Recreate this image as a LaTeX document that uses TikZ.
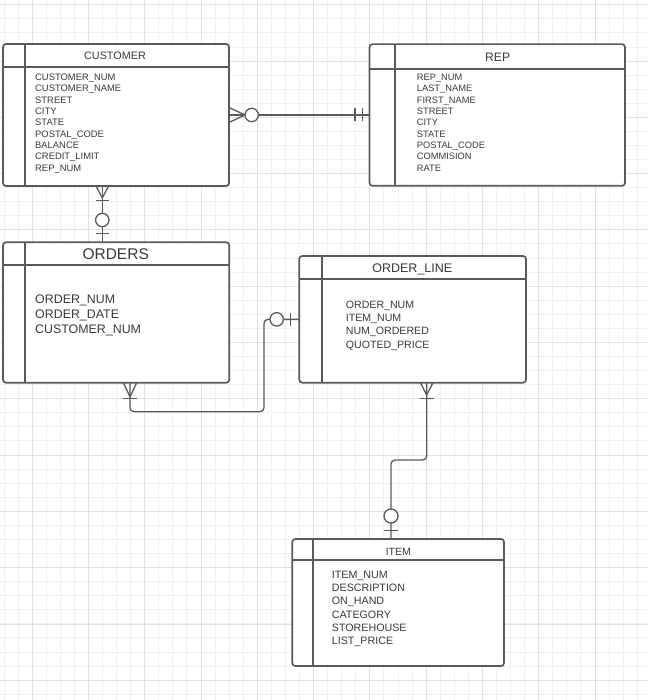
\documentclass[tikz,border=0pt]{standalone}
\usepackage{fontspec}
\setmainfont{Liberation Sans}
\usetikzlibrary{calc}
\definecolor{edge}{HTML}{5A5A5A}
\definecolor{txt}{HTML}{3A3A3A}
\definecolor{gridminor}{HTML}{F1F1F1}
\definecolor{gridmajor}{HTML}{E2E2E2}
\begin{document}
\begin{tikzpicture}[x=1pt,y=-1pt,
  entity/.style={rectangle, draw=edge, line width=1.7pt, fill=white, rounded corners=3pt, inner sep=0pt, outer sep=0pt},
  inner/.style={draw=edge, line width=1.7pt},
  rel/.style={draw=edge, line width=1.3pt},
  attr/.style={text=txt, inner sep=0pt, anchor=base west},
  ttl/.style={text=txt, inner sep=0pt, anchor=base}]
\useasboundingbox (0,0) rectangle (648,700);
\fill[white] (0,0) rectangle (648,700);
% grid
\foreach \i in {0,...,46} \draw[gridminor, line width=0.6pt] ({3.86+\i*14.07},0) -- ({3.86+\i*14.07},700);
\foreach \i in {0,...,49} \draw[gridminor, line width=0.6pt] (0,{4.6+\i*14.07}) -- (648,{4.6+\i*14.07});
\foreach \i in {0,...,11} \draw[gridmajor, line width=0.7pt] ({32+\i*56.3},0) -- ({32+\i*56.3},700);
\foreach \i in {0,...,12} \draw[gridmajor, line width=0.7pt] (0,{4.6+\i*56.3}) -- (648,{4.6+\i*56.3});

% entities
\node[entity, minimum width=226pt, minimum height=142pt] (cust) at (116,115) {};
\draw[inner] (3,67) -- (229,67);
\draw[inner] (25,44) -- (25,186);
\node[entity, minimum width=255.5pt, minimum height=141.7pt] (rep) at (497.25,115) {};
\draw[inner] (369.5,69) -- (625,69);
\draw[inner] (395,44.15) -- (395,185.85);
\node[entity, minimum width=226.3pt, minimum height=140.4pt] (orders) at (116.15,312.5) {};
\draw[inner] (3,265) -- (229.3,265);
\draw[inner] (25,242.3) -- (25,382.7);
\node[entity, minimum width=226.7pt, minimum height=126.7pt] (ol) at (412.65,319.35) {};
\draw[inner] (299.3,279) -- (526,279);
\draw[inner] (322.3,256) -- (322.3,382.7);
\node[entity, minimum width=211.7pt, minimum height=127pt] (item) at (398.15,602.5) {};
\draw[inner] (292.3,560) -- (504,560);
\draw[inner] (313.3,539) -- (313.3,666);

% titles
\node[ttl, font=\fontsize{10.8}{13}\selectfont] (cust-t) at (115,59.9) {CUSTOMER};
\node[ttl, font=\fontsize{12.2}{14}\selectfont] (rep-t) at (497.7,61.1) {REP};
\node[ttl, font=\fontsize{15.5}{18}\selectfont] (orders-t) at (115.7,259.5) {ORDERS};
\node[ttl, font=\fontsize{12.5}{15}\selectfont] (ol-t) at (412.3,272.8) {ORDER\_LINE};
\node[ttl, font=\fontsize{10.5}{13}\selectfont] (item-t) at (398.3,555.5) {ITEM};

% attributes
\foreach \t [count=\i from 0] in {CUSTOMER\_NUM,CUSTOMER\_NAME,STREET,CITY,STATE,POSTAL\_CODE,BALANCE,CREDIT\_LIMIT,REP\_NUM}
  \node[attr, font=\fontsize{9.4}{11}\selectfont] (cust-a\i) at (35,{80.7+\i*11.3}) {\t};
\foreach \t [count=\i from 0] in {REP\_NUM,LAST\_NAME,FIRST\_NAME,STREET,CITY,STATE,POSTAL\_CODE,COMMISION,RATE}
  \node[attr, font=\fontsize{9.3}{11}\selectfont] (rep-a\i) at (416.7,{80.7+\i*11.3}) {\t};
\foreach \t [count=\i from 0] in {ORDER\_NUM,ORDER\_DATE,CUSTOMER\_NUM}
  \node[attr, font=\fontsize{12.4}{15}\selectfont] (orders-a\i) at (35,{303.4+\i*15}) {\t};
\foreach \t [count=\i from 0] in {ORDER\_NUM,ITEM\_NUM,NUM\_ORDERED,QUOTED\_PRICE}
  \node[attr, font=\fontsize{10.6}{13}\selectfont] (ol-a\i) at (345.7,{308.1+\i*13.3}) {\t};
\foreach \t [count=\i from 0] in {ITEM\_NUM,DESCRIPTION,ON\_HAND,CATEGORY,STOREHOUSE,LIST\_PRICE}
  \node[attr, font=\fontsize{10.7}{13}\selectfont] (item-a\i) at (331.7,{578.1+\i*13.3}) {\t};

% CUSTOMER -- REP
\draw[rel] (cust.east) -- (rep.west);
\draw[rel] ($(cust.east)+(0,-7.5)$) -- ($(cust.east)+(16,0)$) -- ($(cust.east)+(0,7.5)$);
\draw[rel, fill=white] ($(cust.east)+(22.7,0)$) circle[radius=6.7];
\draw[rel] ($(rep.west)+(-14.5,-6.5)$) -- ++(0,13);
\draw[rel] ($(rep.west)+(-6.8,-6.5)$) -- ++(0,13);

% CUSTOMER -- ORDERS
\coordinate (c2a) at ($(cust.south west)+(99.3,0)$);
\coordinate (c2b) at ($(orders.north west)+(99.3,0)$);
\draw[rel] (c2a) -- (c2b);
\draw[rel] ($(c2a)+(-6.3,0)$) -- ($(c2a)+(0,12)$) -- ($(c2a)+(6.3,0)$);
\draw[rel] ($(c2a)+(-6.5,14.7)$) -- ++(13,0);
\draw[rel, fill=white] ($(c2a)+(0,34)$) circle[radius=6.7];
\draw[rel] ($(c2b)+(-6.5,-9)$) -- ++(13,0);

% ORDERS -- ORDER_LINE
\coordinate (c3a) at ($(orders.south west)+(127,0)$);
\coordinate (c3m) at (264,411.7);
\draw[rel, rounded corners=4pt] (c3a) |- (c3m) |- (ol.west);
\draw[rel] ($(c3a)+(-6.7,0)$) -- ($(c3a)+(0,14)$) -- ($(c3a)+(6.7,0)$);
\draw[rel] ($(c3a)+(-7,15.6)$) -- ++(14,0);
\draw[rel, fill=white] ($(ol.west)+(-22.6,0)$) circle[radius=6.7];
\draw[rel] ($(ol.west)+(-8.6,-6.7)$) -- ++(0,13.4);

% ORDER_LINE -- ITEM
\coordinate (c4a) at ($(ol.south west)+(127.4,0)$);
\coordinate (c4b) at ($(item.north west)+(98.7,0)$);
\coordinate (c4m) at (391,460);
\draw[rel, rounded corners=4pt] (c4a) |- (c4m) -- (c4b);
\draw[rel] ($(c4a)+(-6.3,0)$) -- ($(c4a)+(0,12.3)$) -- ($(c4a)+(6.3,0)$);
\draw[rel] ($(c4a)+(-7,15.6)$) -- ++(14,0);
\draw[rel, fill=white] ($(c4b)+(0,-23)$) circle[radius=7];
\draw[rel] ($(c4b)+(-6.7,-8.3)$) -- ++(13.4,0);
\end{tikzpicture}
\end{document}
